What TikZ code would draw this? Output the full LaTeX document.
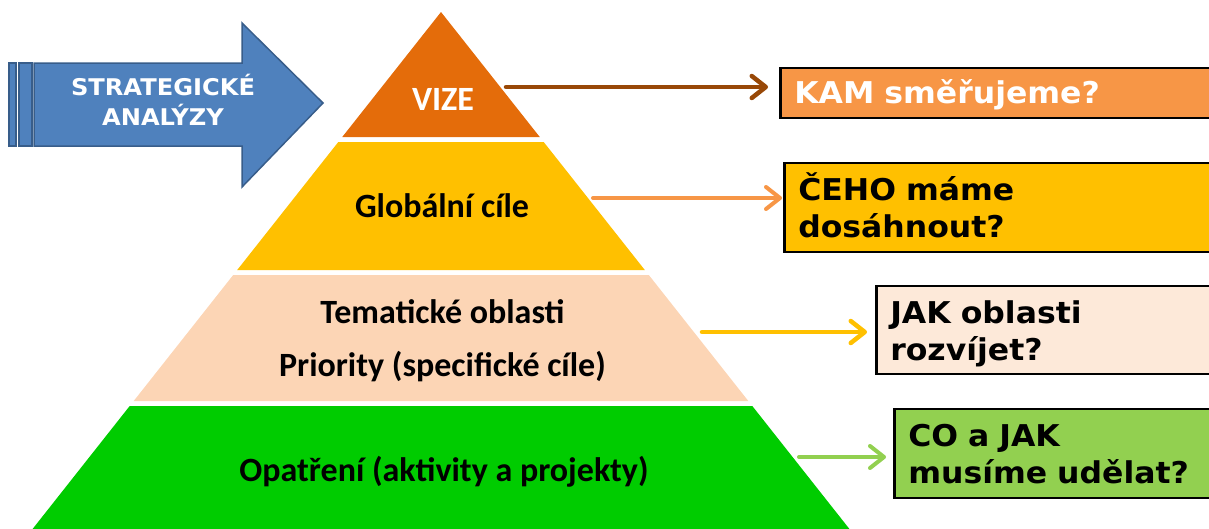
\documentclass[tikz,border=0pt]{standalone}
\usepackage{fontspec}
\setmainfont{Carlito}
\newfontfamily\qfont[FakeStretch=1.05]{DejaVu Sans}
\usetikzlibrary{arrows.meta}
\definecolor{cVize}{HTML}{E46C0A}
\definecolor{cGlob}{HTML}{FFC000}
\definecolor{cTema}{HTML}{FCD5B5}
\definecolor{cOpat}{HTML}{00CC00}
\definecolor{cQa}{HTML}{F79646}
\definecolor{cQb}{HTML}{FFC000}
\definecolor{cQc}{HTML}{FDE9D9}
\definecolor{cQd}{HTML}{92D050}
\definecolor{cAa}{HTML}{984807}
\definecolor{cAb}{HTML}{F79646}
\definecolor{cAc}{HTML}{FFC000}
\definecolor{cAd}{HTML}{92D050}
\definecolor{cBlue}{HTML}{4F81BD}
\definecolor{cBlueDark}{HTML}{385D8A}
\begin{document}
\begin{tikzpicture}[x=1pt,y=-1pt,
  ptext/.style={font=\fontsize{34}{40}\selectfont\bfseries, inner sep=0pt, anchor=base},
  qbox/.style={draw=black, line width=2.5pt, anchor=west, align=left,
    inner xsep=14pt, inner ysep=0pt, text width=420pt, text height=22pt,
    font=\qfont\bfseries\fontsize{30}{37}\selectfont},
  qarrow/.style={-{Straight Barb[length=14pt,width=22pt,line cap=round,line join=round]}, line cap=round},
  blockarrow/.style={fill=cBlue, draw=cBlueDark, line width=1.5pt, line join=miter}
]
\useasboundingbox (0,0) rectangle (1209,528);
\clip (0,0) rectangle (1209,528);

% left striped block arrow
\filldraw[blockarrow] (9,63) rectangle (16,146);
\filldraw[blockarrow] (19,63) rectangle (32,146);
\filldraw[blockarrow] (34,63) -- (242,63) -- (242,23) -- (323,103) -- (242,187) -- (242,146) -- (34,146) -- cycle;
\node[text=white, align=center, inner sep=0pt,
  font=\qfont\bfseries\fontsize{23}{30}\selectfont] (strat) at (163,99.5) {STRATEGICKÉ\\ANALÝZY};

% pyramid
\fill[cVize] (441,12) -- (539.75,137) -- (342.25,137) -- cycle;
\fill[cGlob] (338.3,142) -- (543.7,142) -- (644.8,270) -- (237.2,270) -- cycle;
\fill[cTema] (233.2,275) -- (648.8,275) -- (748.3,401) -- (133.7,401) -- cycle;
\fill[cOpat] (129.7,406) -- (752.3,406) -- (859.7,542) -- (22.3,542) -- cycle;

\node[ptext, text=white] (vize) at (443,110) {VIZE};
\node[ptext] (glob) at (442,217) {Globální cíle};
\node[ptext] (tema) at (442.5,323) {Tematické oblasti};
\node[ptext] (prio) at (442.5,376) {Priority (specifické cíle)};
\node[ptext] (opat) at (444,481) {Opatření (aktivity a projekty)};

% question boxes
\node[qbox, fill=cQa, text=white, minimum height=50pt, text depth=2pt] (qa) at (779,93) {KAM směřujeme?};
\node[qbox, fill=cQb, minimum height=89pt, text depth=36pt] (qb) at (783,207.5) {ČEHO máme\\dosáhnout?};
\node[qbox, fill=cQc, minimum height=88pt, text depth=36pt] (qc) at (875,330) {JAK oblasti\\rozvíjet?};
\node[qbox, fill=cQd, minimum height=89pt, text depth=36pt] (qd) at (893,453.5) {CO a JAK\\musíme udělat?};

% connectors
\coordinate (sa) at (506,87);
\coordinate (sb) at (593,198);
\coordinate (sc) at (702,332);
\coordinate (sd) at (799,457);
\draw[qarrow, draw=cAa, line width=4.5pt, shorten >=11pt] (sa) -- (sa -| qa.west);
\draw[qarrow, draw=cAb, line width=4pt, shorten >=1pt] (sb) -- (sb -| qb.west);
\draw[qarrow, draw=cAc, line width=4.5pt, shorten >=8pt] (sc) -- (sc -| qc.west);
\draw[qarrow, draw=cAd, line width=4pt, shorten >=7pt] (sd) -- (sd -| qd.west);
\end{tikzpicture}
\end{document}
